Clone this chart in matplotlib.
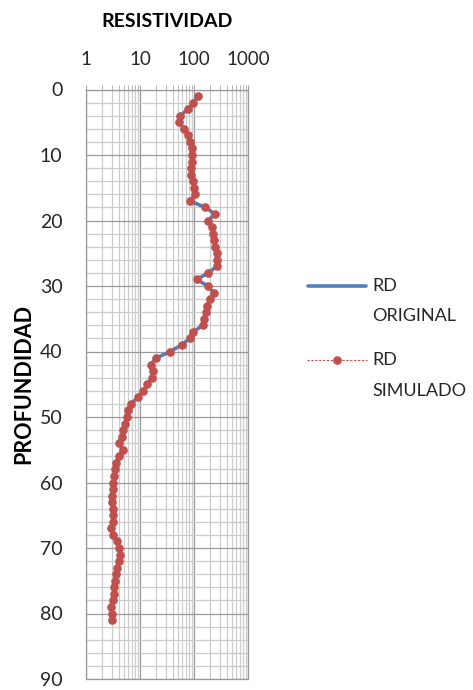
import numpy as np
import matplotlib
matplotlib.use("Agg")
import matplotlib.pyplot as plt
from matplotlib.lines import Line2D
from matplotlib.ticker import LogLocator, FixedLocator, NullFormatter

plt.rcParams['font.family'] = ['Lato', 'DejaVu Sans']
plt.rcParams['ytick.major.pad'] = 17
plt.rcParams['ytick.major.size'] = 0
plt.rcParams['ytick.minor.size'] = 0
plt.rcParams['text.color'] = '#262626'
plt.rcParams['xtick.labelcolor'] = '#262626'
plt.rcParams['ytick.labelcolor'] = '#262626'

# Depth (m) and apparent resistivity (ohm-m)
profundidad = list(range(1, 82))
rd_original = [
    120, 97, 78, 55, 52, 65, 78, 85, 90, 90,
    90, 88, 88, 97, 102, 104, 84, 160, 245, 184,
    212, 228, 238, 245, 262, 270, 264, 184, 112, 180,
    230, 197, 177, 167, 153, 145, 97, 84, 59, 36,
    20, 15.8, 17.2, 16.5, 13.7, 11.5, 9.3, 6.7, 6.1, 5.7,
    5.3, 4.9, 4.6, 4.0, 4.8, 4.0, 3.6, 3.45, 3.3, 3.2,
    3.1, 3.07, 3.0, 3.1, 3.2, 3.1, 2.85, 3.2, 3.8, 4.1,
    4.25, 4.0, 3.8, 3.6, 3.45, 3.34, 3.3, 3.1, 2.85, 3.0,
    3.0,
]
rd_simulado = list(rd_original)

x_ticks = [1, 10, 100, 1000]
x_ticklabels = ["1", "10", "100", "1000"]
y_ticks = list(range(0, 91, 10))

W, H = 473, 690
fig = plt.figure(figsize=(W / 100, H / 100), dpi=100)
ax = fig.add_axes([86 / W, 11 / H, 162 / W, 589.5 / H])

BLUE = '#4f81bd'
RED = '#c0504d'

ax.plot(rd_original, profundidad, color=BLUE, lw=2.6,
        solid_capstyle='round', zorder=3)
ax.plot(rd_simulado, profundidad, color=RED, lw=0.8, ls=(0, (2, 1.5)),
        marker='o', ms=5.2, mec=RED, mfc=RED, zorder=4)

ax.set_xscale('log')
ax.set_xlim(1, 1000)
ax.set_ylim(90, 0)

ax.xaxis.set_ticks_position('top')
ax.xaxis.set_label_position('top')
ax.set_xticks(x_ticks)
ax.set_xticklabels(x_ticklabels, fontsize=13.5)
ax.xaxis.set_minor_locator(LogLocator(base=10, subs=np.arange(2, 10)))
ax.xaxis.set_minor_formatter(NullFormatter())
ax.tick_params(axis='x', which='both', direction='out', length=3.5,
               color='#a6a6a6', pad=12)

ax.set_yticks(y_ticks)
ax.set_yticklabels([str(v) for v in y_ticks], fontsize=14)
ax.yaxis.set_minor_locator(FixedLocator(np.arange(0, 91, 2)))

ax.grid(which='minor', color='#cccccc', lw=0.9)
ax.grid(which='major', color='#9a9a9a', lw=0.9)
ax.set_axisbelow(True)
for s in ax.spines.values():
    s.set_color('#9a9a9a')
    s.set_linewidth(0.9)

ax.set_xlabel('RESISTIVIDAD', fontsize=14, fontweight='bold', labelpad=17)
ax.set_ylabel('PROFUNDIDAD', fontsize=15.5, fontweight='bold', labelpad=4)


def fx(px):
    return px / W


def fy(py):
    return 1 - py / H


# Legend entries drawn in figure coordinates
fig.add_artist(Line2D([fx(308), fx(366)], [fy(286), fy(286)], color=BLUE,
                      lw=2.6, solid_capstyle='round'))
fig.add_artist(Line2D([fx(307), fx(367)], [fy(360), fy(360)], color=RED,
                      lw=0.8, ls=(0, (2, 1.5))))
fig.add_artist(Line2D([fx(337)], [fy(360)], color=RED, marker='o', ms=5.2,
                      lw=0))
for txt, py in [("RD", 286), ("ORIGINAL", 316), ("RD", 360), ("SIMULADO", 391)]:
    fig.text(fx(372), fy(py), txt, fontsize=13, ha='left', va='center')

fig.savefig('out.png', dpi=100)
